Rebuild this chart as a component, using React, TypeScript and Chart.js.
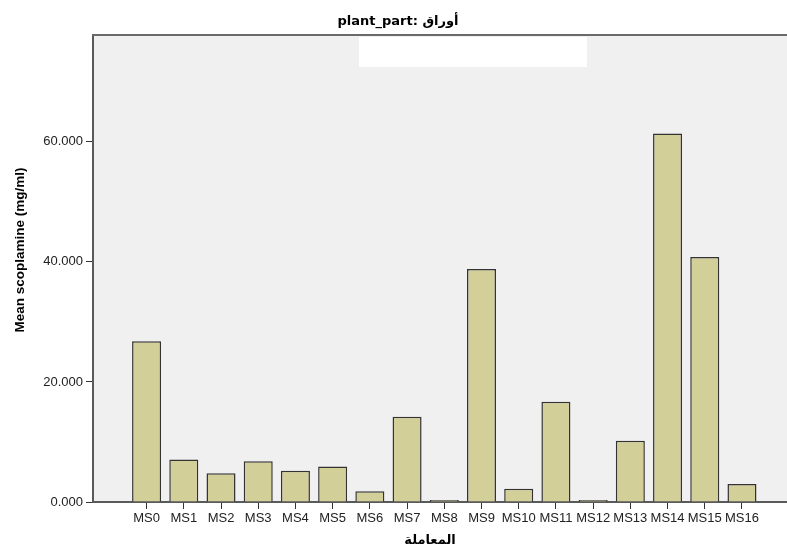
import React, { useEffect, useRef } from "react";
import { Chart, registerables } from "chart.js";

Chart.register(...registerables);

const categories = [
  "MS0", "MS1", "MS2", "MS3", "MS4", "MS5", "MS6", "MS7", "MS8",
  "MS9", "MS10", "MS11", "MS12", "MS13", "MS14", "MS15", "MS16",
];
const meanScopolamine = [
  26.8, 7.1, 4.8, 6.8, 5.2, 5.9, 1.8, 14.2, 0,
  38.8, 2.2, 16.7, 0, 10.2, 61.4, 40.8, 3.0,
];
const yTickValues = [0, 20, 40, 60];
const chartTitle = "plant_part: أوراق";
const xAxisTitle = "المعاملة";
const yAxisTitle = "Mean scoplamine (mg/ml)";

const TICK_FONT = { family: "'Liberation Sans', Arial, sans-serif", size: 13 };

const decorPlugin = {
  id: "decor",
  beforeDraw(chart: any) {
    const { ctx, chartArea: a } = chart;
    ctx.save();
    ctx.fillStyle = "#F0F0F0";
    ctx.fillRect(a.left, a.top, a.right - a.left, a.bottom - a.top);
    ctx.fillStyle = "#FFFFFF";
    ctx.fillRect(a.left + 266, a.top + 2, 228, 30);
    ctx.restore();
  },
  afterDraw(chart: any) {
    const { ctx, chartArea: a } = chart;
    ctx.save();
    ctx.strokeStyle = "#6a6a6a";
    ctx.lineWidth = 2;
    ctx.beginPath();
    ctx.moveTo(a.left - 1, a.top);
    ctx.lineTo(a.right, a.top);
    ctx.stroke();

    ctx.fillStyle = "#000";
    ctx.textAlign = "center";
    ctx.textBaseline = "middle";
    ctx.font = "bold 13px 'DejaVu Sans', sans-serif";
    ctx.fillText(chartTitle, a.left + 305, a.top - 13);

    ctx.font = "bold 13px 'DejaVu Sans', sans-serif";
    ctx.fillText(xAxisTitle, a.left + 337, a.bottom + 39);

    ctx.translate(a.left - 73, a.top + 215);
    ctx.rotate(-Math.PI / 2);
    ctx.font = "bold 13.5px 'Liberation Sans', Arial, sans-serif";
    ctx.fillText(yAxisTitle, 0, 0);
    ctx.restore();
  },
};

export default function App() {
  const canvasRef = useRef<HTMLCanvasElement | null>(null);

  useEffect(() => {
    if (!canvasRef.current) return;
    const chart = new Chart(canvasRef.current, {
      type: "bar",
      data: {
        datasets: [
          {
            data: categories.map((c, i) => ({ x: i, y: meanScopolamine[i] })),
            backgroundColor: "#D3CF98",
            borderColor: "#333333",
            borderWidth: 1.5,
            barPercentage: 0.78,
            categoryPercentage: 1,
            minBarLength: 2,
          } as any,
        ],
      },
      options: {
        responsive: false,
        animation: false,
        layout: { padding: { top: 35, right: 0, bottom: 0, left: 0 } },
        plugins: {
          legend: { display: false },
          tooltip: { enabled: false },
          title: { display: false },
        },
        scales: {
          x: {
            type: "linear",
            offset: false,
            min: -1.44,
            max: 17.21,
            afterBuildTicks: (s: any) => {
              s.ticks = categories.map((_, i) => ({ value: i }));
            },
            afterFit: (s: any) => {
              s.height = 46;
            },
            ticks: {
              callback: (v: any) => categories[v] ?? "",
              autoSkip: false,
              maxRotation: 0,
              minRotation: 0,
              padding: 2,
              color: "#222",
              font: TICK_FONT,
            },
            grid: {
              offset: false,
              drawOnChartArea: false,
              drawTicks: true,
              tickLength: 7,
              color: "#333",
              lineWidth: 1,
            },
            border: { display: true, color: "#5a5a5a", width: 2 },
          },
          y: {
            min: 0,
            max: 77.8,
            afterBuildTicks: (s: any) => {
              s.ticks = yTickValues.map((v) => ({ value: v }));
            },
            afterFit: (s: any) => {
              s.width = 93;
            },
            ticks: {
              callback: (v: any) => Number(v).toFixed(3),
              padding: 3,
              color: "#222",
              font: TICK_FONT,
            },
            grid: {
              drawOnChartArea: false,
              drawTicks: true,
              tickLength: 7,
              color: "#333",
              lineWidth: 1,
            },
            border: { display: true, color: "#5a5a5a", width: 2 },
          },
        },
      } as any,
      plugins: [decorPlugin],
    });
    return () => chart.destroy();
  }, []);

  return (
    <div style={{ position: "absolute", left: 0, top: 0, width: 787, height: 548 }}>
      <canvas ref={canvasRef} width={787} height={548} />
    </div>
  );
}
